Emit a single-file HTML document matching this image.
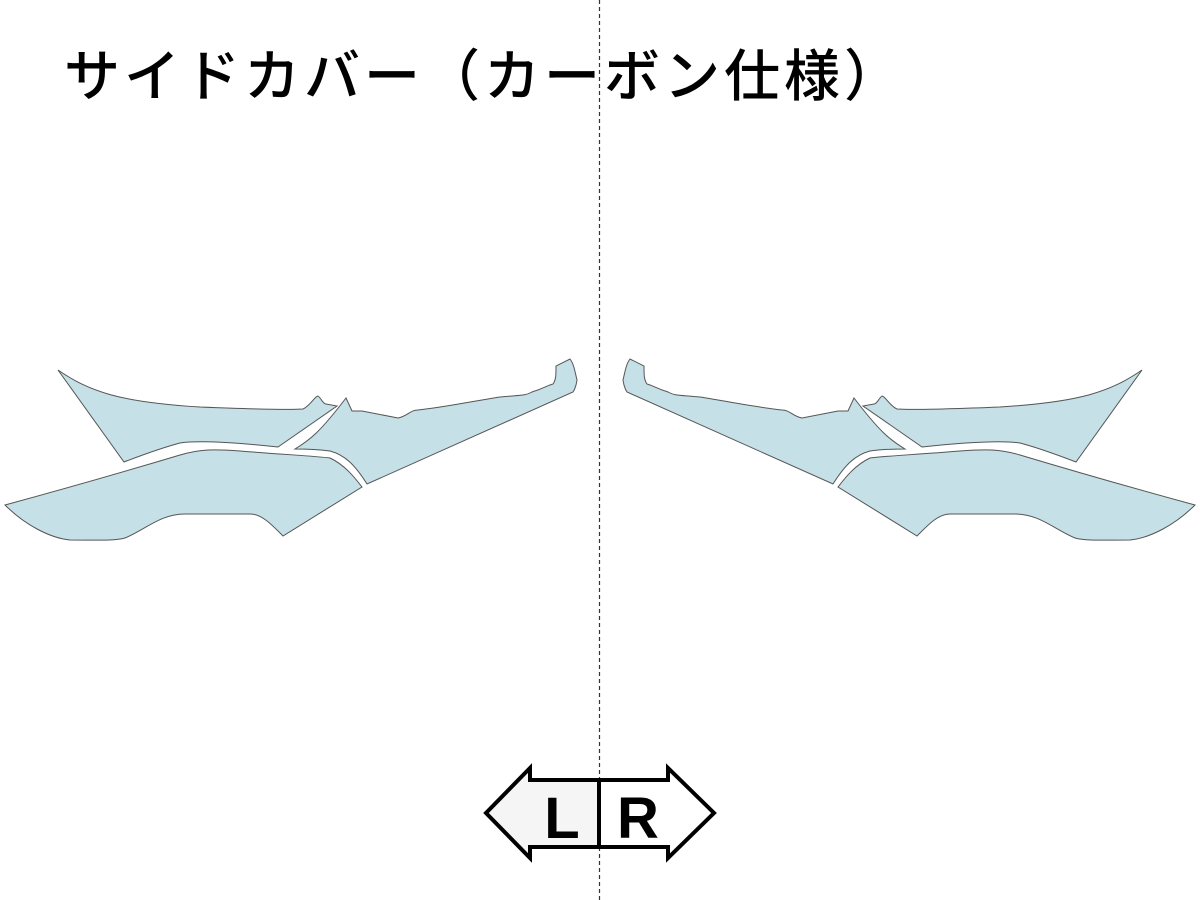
<!DOCTYPE html>
<html><head><meta charset="utf-8"><style>
body{margin:0;width:1200px;height:900px;background:#fff;overflow:hidden;position:relative}
.t{position:absolute;left:64px;top:32px;font-family:"Liberation Sans","Noto Sans CJK JP",sans-serif;font-size:56px;font-weight:500;letter-spacing:4px;color:#000;white-space:nowrap}
</style></head><body>
<div class="t">サイドカバー（カーボン仕様）</div>
<svg width="1200" height="900" style="position:absolute;left:0;top:0">
<line x1="599.5" y1="0" x2="599.5" y2="900" stroke="#333" stroke-width="1.2" stroke-dasharray="4,3"/>
<g id="L" fill="#c5e0e6" stroke="#555" stroke-width="1">
<path d="M58,370 C90,392 120,402 200,407 C250,409 290,410 303,409 C310,406 315,396 318,396 C321,398 323,404 326,404 L337,406 L278,447 C240,443 200,440 180,443 C165,447 150,452 124,462 Z"/>
<path d="M346,398 L352,411 L362,411 L398,418 C408,416 410,410 418,410 C440,408 480,400 500,397 C520,395 525,396 532,392 C545,388 548,385 553,384 C556,380 556,375 556,366 L570,359 C574,364 575,372 577,380 C576,388 573,392 573,392 L367,484 C355,465 345,455 330,451 C315,449 305,449 295,449 C310,440 320,432 346,398 Z"/>
<path d="M5,505 C60,490 130,470 180,455 C200,449 215,449 240,451 C290,455 315,456 330,458 C345,465 355,478 362,487 L283,536 C272,525 262,514 250,514 L185,514 C160,514 145,530 125,538 C115,541 95,540 70,540 C50,538 25,525 5,505 Z"/>
</g>
<g transform="translate(1200,0) scale(-1,1)" fill="#c5e0e6" stroke="#555" stroke-width="1">
<use href="#L"/>
</g>
<path d="M599,780 L530,780 L530,768 L486,813 L530,858 L530,847 L599,847 Z" fill="#f5f5f5" stroke="#000" stroke-width="4" stroke-linejoin="miter"/>
<path d="M599,780 L668,780 L668,768 L714,813 L668,858 L668,847 L599,847 Z" fill="#fff" stroke="#000" stroke-width="4"/>
<line x1="599" y1="780" x2="599" y2="847" stroke="#000" stroke-width="3"/>
<text x="562" y="838" font-family="Liberation Sans,sans-serif" font-size="58" font-weight="bold" text-anchor="middle">L</text>
<text x="638" y="838" font-family="Liberation Sans,sans-serif" font-size="58" font-weight="bold" text-anchor="middle">R</text>
</svg>
</body></html>
